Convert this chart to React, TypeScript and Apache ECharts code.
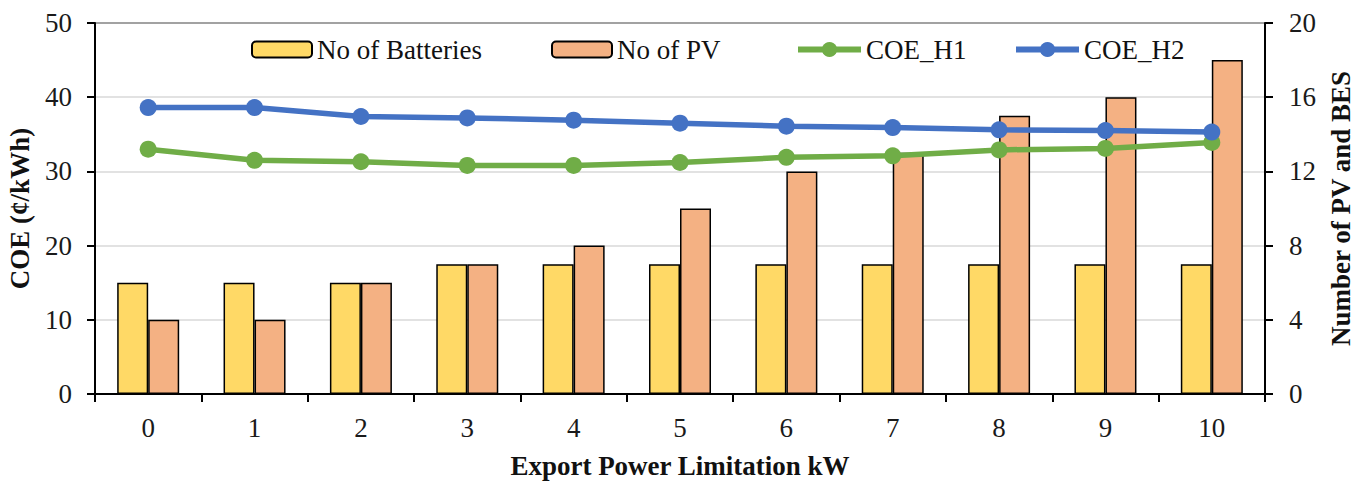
import React, { useEffect, useRef } from "react";
import * as echarts from "echarts";

const categories = ["0", "1", "2", "3", "4", "5", "6", "7", "8", "9", "10"];
const batteries = [6, 6, 6, 7, 7, 7, 7, 7, 7, 7, 7];
const pv = [4, 4, 6, 7, 8, 10, 12, 13, 15, 16, 18];
const coeH1 = [33.0, 31.5, 31.3, 30.8, 30.8, 31.2, 31.9, 32.1, 32.9, 33.1, 33.9];
const coeH2 = [38.6, 38.6, 37.4, 37.2, 36.9, 36.5, 36.1, 35.9, 35.6, 35.5, 35.3];

const FONT = "Liberation Serif";
const FS = 27;

export default function App() {
  const ref = useRef<HTMLDivElement>(null);
  useEffect(() => {
    const chart = echarts.init(ref.current!, null, { renderer: "svg" });
    const legendText = { fontFamily: FONT, fontSize: FS, color: "#111" };
    const mkLegend = (name: string, left: number, isLine: boolean) => ({
      data: [name],
      left,
      top: 36,
      padding: 0,
      itemWidth: isLine ? 63 : 60,
      itemHeight: isLine ? 19 : 16,
      itemGap: 4,
      textStyle: legendText,
      ...(isLine ? { lineStyle: { width: 6 } } : {}),
    });
    chart.setOption({
      animation: false,
      backgroundColor: "#fff",
      textStyle: { fontFamily: FONT },
      legend: [
        mkLegend("No of Batteries", 251, false),
        mkLegend("No of PV", 551, false),
        mkLegend("COE_H1", 795, true),
        mkLegend("COE_H2", 1013, true),
      ],
      grid: {
        left: 95,
        right: 103,
        top: 23,
        bottom: 87,
        containLabel: false,
        outerBoundsMode: "none",
        show: true,
        borderColor: "#000",
        borderWidth: 2,
      },
      xAxis: {
        type: "category",
        data: categories,
        name: "Export Power Limitation kW",
        nameLocation: "middle",
        nameGap: 58,
        nameTextStyle: { fontFamily: FONT, fontSize: FS, fontWeight: "bold", color: "#111" },
        axisLine: { lineStyle: { color: "#000", width: 2 } },
        axisTick: { show: true, length: 8, lineStyle: { color: "#000", width: 2 } },
        axisLabel: { fontFamily: FONT, fontSize: FS, color: "#1a1a1a", margin: 20 },
      },
      yAxis: [
        {
          type: "value",
          min: 0,
          max: 50,
          interval: 10,
          name: "COE (¢/kWh)",
          nameLocation: "middle",
          nameGap: 62,
          nameRotate: 90,
          nameTextStyle: { fontFamily: FONT, fontSize: FS, fontWeight: "bold", color: "#111" },
          axisLine: { show: true, lineStyle: { color: "#000", width: 2 } },
          axisTick: { show: true, length: 8, lineStyle: { color: "#000", width: 2 } },
          axisLabel: { fontFamily: FONT, fontSize: FS, color: "#1a1a1a", margin: 23 },
          splitLine: { show: true, lineStyle: { color: "#d9d9d9", width: 1.5 } },
        },
        {
          type: "value",
          min: 0,
          max: 20,
          interval: 4,
          position: "right",
          name: "Number of PV and BES",
          nameLocation: "middle",
          nameGap: 62,
          nameRotate: 90,
          nameTextStyle: { fontFamily: FONT, fontSize: FS, fontWeight: "bold", color: "#111" },
          axisLine: { show: true, lineStyle: { color: "#000", width: 2 } },
          axisTick: { show: true, length: 8, lineStyle: { color: "#000", width: 2 } },
          axisLabel: { fontFamily: FONT, fontSize: FS, color: "#1a1a1a", margin: 24 },
          splitLine: { show: false },
        },
      ],
      series: [
        {
          name: "No of Batteries",
          type: "bar",
          yAxisIndex: 1,
          data: batteries,
          barWidth: 31,
          barGap: "0%",
          itemStyle: { color: "#FFD966", borderColor: "#000", borderWidth: 1.5 },
        },
        {
          name: "No of PV",
          type: "bar",
          yAxisIndex: 1,
          data: pv,
          barWidth: 31,
          barGap: "0%",
          itemStyle: { color: "#F4B183", borderColor: "#000", borderWidth: 1.5 },
        },
        {
          name: "COE_H1",
          type: "line",
          yAxisIndex: 0,
          data: coeH1,
          symbol: "circle",
          symbolSize: 17,
          lineStyle: { color: "#70AD47", width: 5.5 },
          itemStyle: { color: "#70AD47" },
        },
        {
          name: "COE_H2",
          type: "line",
          yAxisIndex: 0,
          data: coeH2,
          symbol: "circle",
          symbolSize: 17,
          lineStyle: { color: "#4472C4", width: 5.5 },
          itemStyle: { color: "#4472C4" },
        },
      ],
    });
    return () => chart.dispose();
  }, []);
  return (
    <div
      ref={ref}
      style={{ position: "absolute", left: 0, top: 0, width: 1368, height: 481 }}
    />
  );
}
